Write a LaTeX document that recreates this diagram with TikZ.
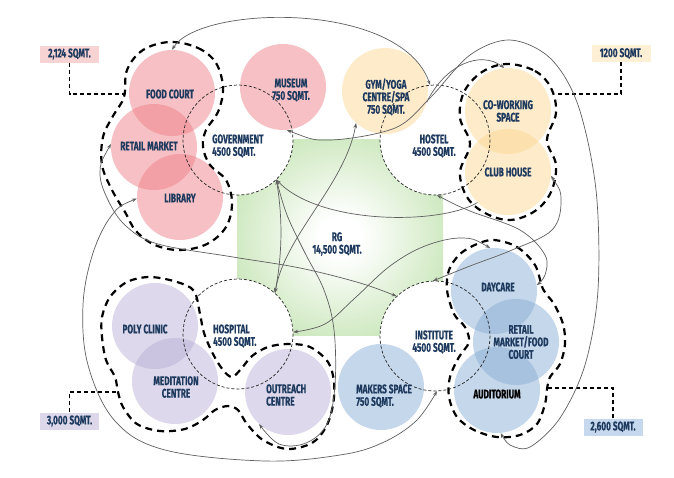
\documentclass[tikz,border=0pt]{standalone}
\usepackage{fontspec}
\newfontfamily\lblfont{Fira Sans}[FakeStretch=0.66,FakeBold=0.4]
\usetikzlibrary{arrows.meta}
\definecolor{txt}{HTML}{1E3A5F}
\definecolor{rggreen}{RGB}{194,227,176}
\definecolor{cpink}{RGB}{238,125,132}
\definecolor{cyel}{RGB}{251,215,145}
\definecolor{cpur}{RGB}{185,175,214}
\definecolor{cblu}{RGB}{135,172,212}
\definecolor{bpink}{RGB}{248,211,211}
\definecolor{byel}{RGB}{253,240,213}
\definecolor{bpur}{RGB}{220,216,234}
\definecolor{bblu}{RGB}{197,216,237}
\definecolor{linkc}{RGB}{95,95,95}
\pgfdeclareradialshading{rgshade}{\pgfpoint{0bp}{0bp}}{color(0bp)=(white); color(5bp)=(white); color(32bp)=(rggreen); color(50bp)=(rggreen)}
\begin{document}
\begin{tikzpicture}[x=1pt,y=-1pt,
  lbl/.style={font=\lblfont\bfseries\fontsize{12.5}{12.5}\selectfont, text=txt, align=center, inner sep=0pt},
  zone/.style={circle, minimum size=86pt, inner sep=0pt, draw=none, fill opacity=0.48},
  hub/.style={circle, minimum size=110pt, inner sep=0pt, fill=white},
  hubline/.style={draw=black!85, line width=0.7pt, dash pattern=on 3pt off 2pt},
  grp/.style={draw=black, line width=2.2pt, dash pattern=on 7pt off 5pt},
  lead/.style={draw=black, line width=1.1pt, dash pattern=on 4pt off 3pt},
  areabox/.style={lbl, minimum width=59pt, minimum height=17pt},
  link/.style={draw=linkc, line width=0.7pt, -{Stealth[length=5pt,width=3.6pt]}},
  linkboth/.style={draw=linkc, line width=0.7pt, {Stealth[length=5pt,width=3.6pt]}-{Stealth[length=5pt,width=3.6pt]}}
]
\useasboundingbox[fill=white] (0,0) rectangle (674,477);

% central green field
\shade[shading=rgshade] (237,139) rectangle (443,335);

% hub circles (white)
\node[hub] (gov) at (238,140) {};
\node[hub] (hst) at (435,140) {};
\node[hub] (hos) at (238,334) {};
\node[hub] (ins) at (435,336) {};

% coloured zones
\node[zone, fill=cpink] (fc) at (172,93) {};
\node[zone, fill=cpink] (rm) at (154,147) {};
\node[zone, fill=cpink] (lib) at (180,197) {};
\node[zone, fill=cpink] (mus) at (283,87) {};
\node[zone, fill=cyel] (gym) at (385,91) {};
\node[zone, fill=cyel] (cow) at (508,111) {};
\node[zone, fill=cyel] (club) at (508,172) {};
\node[zone, fill=cpur] (poly) at (155,326) {};
\node[zone, fill=cpur] (med) at (175,381) {};
\node[zone, fill=cpur] (outr) at (288,392) {};
\node[zone, fill=cblu] (day) at (494,291) {};
\node[zone, fill=cblu] (rmf) at (516,342) {};
\node[zone, fill=cblu] (aud) at (497,390) {};
\node[zone, fill=cblu] (mak) at (381,387) {};

% hub outlines
\draw[hubline] (gov.center) circle (55);
\draw[hubline] (hst.center) circle (55);
\draw[hubline] (hos.center) circle (55);
\draw[hubline] (ins.center) circle (55);

% group outlines
\draw[grp] plot[smooth cycle, tension=0.6] coordinates {(170,42) (198,48) (216,63) (223,88) (218,112) (206,130) (203,147) (210,165) (226,180) (232,203) (226,227) (207,244) (180,250) (155,245) (136,231) (125,212) (112,190) (102,165) (103,137) (113,116) (124,97) (127,70) (143,50)};
\draw[grp] plot[smooth cycle, tension=0.6] coordinates {(507,64) (535,71) (551,88) (556,113) (547,140) (556,165) (551,192) (535,211) (510,220) (485,213) (467,197) (460,172) (470,144) (460,118) (464,92) (482,72)};
\draw[grp] plot[smooth cycle, tension=0.55] coordinates {(150,277) (177,282) (194,291) (200,314) (204,333) (213,354) (223,370) (232,377) (241,369) (252,356) (268,347) (288,344) (310,347) (328,362) (334,382) (333,405) (326,427) (312,443) (287,449) (263,440) (247,424) (238,410) (228,406) (215,410) (203,420) (185,429) (160,431) (137,424) (123,407) (118,392) (115,377) (106,360) (102,337) (102,317) (110,297) (127,282)};
\draw[grp] plot[smooth cycle, tension=0.55] coordinates {(494,240) (517,247) (535,265) (543,289) (554,304) (563,324) (565,344) (560,364) (550,377) (547,389) (545,404) (537,424) (520,435) (497,437) (474,430) (457,417) (449,397) (450,377) (459,357) (469,342) (465,327) (454,314) (447,290) (449,270) (460,254) (477,244)};

% area boxes and leaders
\coordinate (l1) at (125,94);
\coordinate (l2) at (555,94);
\coordinate (l3) at (118,392);
\coordinate (l4) at (547,388);
\node[areabox, fill=bpink] (b1) at (69.5,54) {2,124 SQMT.};
\node[areabox, fill=byel] (b2) at (621,53.5) {1200 SQMT.};
\node[areabox, fill=bpur] (b3) at (69.5,421) {3,000 SQMT.};
\node[areabox, fill=bblu] (b4) at (613,427) {2,600 SQMT.};
\draw[lead] (b1.south) |- (l1);
\draw[lead] (b2.south) |- (l2);
\draw[lead] (b3.north) |- (l3);
\draw[lead] (b4.north) |- (l4);

% connectors
\draw[linkboth] (fc.north) .. controls (200,5) and (400,0) .. (hst.95);
\draw[linkboth] plot[smooth, tension=0.55] coordinates {(mus.275) (330,140) (395,128) (430,98) (470,55) (510,40) (550,58) (578,105) (596,190) (598,290) (585,365) (560,418) (530,447) (510,445) (aud.-85)};
\draw[link] (gym.-15) .. controls (445,65) and (480,50) .. (cow.95);
\draw[link] (club.225) .. controls (440,225) and (320,225) .. (gov.-46);
\draw[linkboth] (gov.-46) .. controls (283,220) and (282,255) .. (hos.48);
\draw[link] plot[smooth, tension=0.6] coordinates {(gov.-46) (287,215) (305,253) (324,290) (334,330) (335,385) (327,424) (306,443) (279,444) (outr.228)};
\draw[linkboth] (gym.228) .. controls (345,185) and (285,235) .. (hos.48);
\draw[linkboth] plot[smooth, tension=0.6] coordinates {(rm.176) (100,172) (108,200) (126,226) (158,244) (233,257) (300,268) (360,283) (ins.134)};
\draw[linkboth] plot[smooth, tension=0.6] coordinates {(lib.182) (112,215) (93,253) (83,305) (88,365) (115,421) (165,450) (265,461) (340,455) (382,443) (416,421) (ins.-88)};
\draw[linkboth] plot[smooth, tension=0.6] coordinates {(club.-5) (561,200) (552,230) (512,250) (470,266) (ins.92)};
\draw[linkboth] plot[smooth, tension=0.6] coordinates {(hst.-88) (470,211) (520,230) (545,255) (545,275) (day.8)};
\draw[linkboth] plot[smooth, tension=0.6] coordinates {(day.95) (462,238) (425,246) (390,266) (355,298) (325,324) (hos.2)};

% labels
\node[lbl] (tfc) at (170,94) {FOOD COURT};
\node[lbl] (trm) at (149,146) {RETAIL MARKET};
\node[lbl] (tlib) at (180,198) {LIBRARY};
\node[lbl] (tmus) at (291,90) {MUSEUM\\750 SQMT.};
\node[lbl, anchor=west, align=left] (tgov) at (212,146) {GOVERNMENT\\4500 SQMT.};
\node[lbl] (tgym) at (386,97) {GYM/YOGA\\CENTRE/SPA\\750 SQMT.};
\node[lbl] (thst) at (434,146) {HOSTEL\\4500 SQMT.};
\node[lbl] (tcow) at (508,111) {CO-WORKING\\SPACE};
\node[lbl] (tclub) at (508,172) {CLUB HOUSE};
\node[lbl] (trg) at (337,244) {RG\\14,500 SQMT.};
\node[lbl] (tpoly) at (145,329) {POLY CLINIC};
\node[lbl] (tmed) at (176,387) {MEDITATION\\CENTRE};
\node[lbl, anchor=west, align=left] (thos) at (213,336) {HOSPITAL\\4500 SQMT.};
\node[lbl, anchor=west, align=left] (toutr) at (266,395) {OUTREACH\\CENTRE};
\node[lbl] (tins) at (434,342) {INSTITUTE\\4500 SQMT.};
\node[lbl, anchor=west, align=left] (tmak) at (356,396) {MAKERS SPACE\\750 SQMT.};
\node[lbl] (tday) at (498,287) {DAYCARE};
\node[lbl] (trmf) at (521,342) {RETAIL\\MARKET/FOOD\\COURT};
\node[lbl, text=black] (taud) at (497,394) {AUDITORIUM};
\end{tikzpicture}
\end{document}
